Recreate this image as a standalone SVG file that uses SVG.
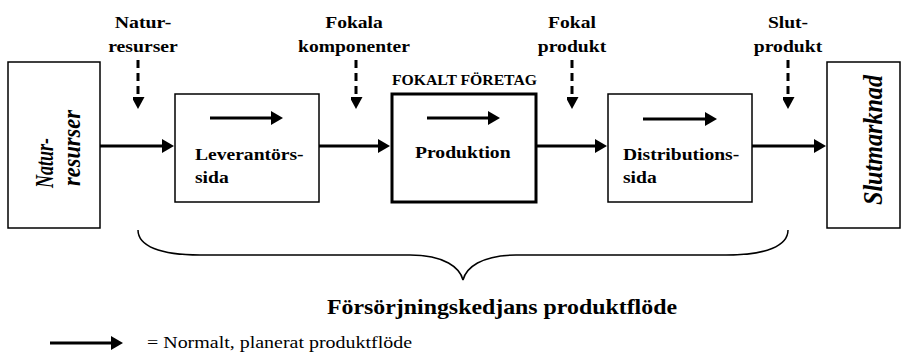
<svg xmlns="http://www.w3.org/2000/svg" width="908" height="359" viewBox="0 0 908 359">
  <style>
    .box { fill: #fff; stroke: #000; stroke-width: 1.5; }
    .thick { fill: #fff; stroke: #000; stroke-width: 3; }
    .flow { stroke: #000; stroke-width: 3; fill: none; marker-end: url(#head); }
    .dash { stroke: #000; stroke-width: 3; fill: none; stroke-dasharray: 8 5; marker-end: url(#dhead); }
    .lbl { font-family: "Liberation Serif", "Times New Roman", serif; font-weight: bold; font-size: 17px; fill: #000; }
    .rot { font-family: "Liberation Serif", "Times New Roman", serif; font-weight: bold; font-style: italic; fill: #000; }
    .brace { fill: none; stroke: #000; stroke-width: 1.5; }
  </style>
  <defs>
    <marker id="head" viewBox="0 0 12 14" refX="0" refY="7" markerWidth="12" markerHeight="14" markerUnits="userSpaceOnUse" orient="auto">
      <path d="M0,0 L12,7 L0,14 z" fill="#000"/>
    </marker>
    <marker id="dhead" viewBox="0 0 13 12" refX="0" refY="6.5" markerWidth="13" markerHeight="12" markerUnits="userSpaceOnUse" orient="auto">
      <path d="M0,0 L12,6.5 L0,13 z" fill="#000"/>
    </marker>
  </defs>
  <rect width="908" height="359" fill="#fff"/>

  <g id="connectors">
    <line class="flow" x1="100" y1="146" x2="162" y2="146"/>
    <line class="flow" x1="319" y1="146" x2="378" y2="146"/>
    <line class="flow" x1="536" y1="146" x2="595" y2="146"/>
    <line class="flow" x1="752" y1="146" x2="814" y2="146"/>
    <line class="dash" x1="138" y1="60" x2="138" y2="97"/>
    <line class="dash" x1="356" y1="60" x2="356" y2="97"/>
    <line class="dash" x1="572" y1="60" x2="572" y2="97"/>
    <line class="dash" x1="788" y1="60" x2="788" y2="97"/>
  </g>

  <g id="natur-resurser-box">
    <rect class="box" x="8" y="62" width="92" height="166"/>
    <g transform="translate(53,188) rotate(-90) scale(1,1.3)">
      <text class="rot" font-size="20" x="0" y="0" textLength="50" lengthAdjust="spacingAndGlyphs">Natur-</text>
      <text class="rot" font-size="20" x="2" y="20.8" textLength="76" lengthAdjust="spacingAndGlyphs">resurser</text>
    </g>
  </g>

  <g id="leverantorssida">
    <rect class="box" x="175" y="94" width="144" height="108"/>
    <line class="flow" x1="210" y1="118" x2="271" y2="118"/>
    <text class="lbl" x="195" y="160" textLength="108.6" lengthAdjust="spacingAndGlyphs">Leverantörs-</text>
    <text class="lbl" x="195" y="183" textLength="33.7" lengthAdjust="spacingAndGlyphs">sida</text>
  </g>

  <g id="produktion">
    <text class="lbl" x="392" y="85" style="font-size:14px" textLength="145" lengthAdjust="spacingAndGlyphs">FOKALT FÖRETAG</text>
    <rect class="thick" x="392" y="94" width="144" height="108"/>
    <line class="flow" x1="427" y1="118" x2="488" y2="118"/>
    <text class="lbl" x="415" y="158" textLength="95.6" lengthAdjust="spacingAndGlyphs">Produktion</text>
  </g>

  <g id="distributionssida">
    <rect class="box" x="608" y="94" width="144" height="108"/>
    <line class="flow" x1="643" y1="119" x2="705" y2="119"/>
    <text class="lbl" x="623" y="160" textLength="116.2" lengthAdjust="spacingAndGlyphs">Distributions-</text>
    <text class="lbl" x="623" y="183" textLength="33.7" lengthAdjust="spacingAndGlyphs">sida</text>
  </g>

  <g id="slutmarknad">
    <rect class="box" x="827" y="62" width="73" height="166"/>
    <g transform="translate(882,205) rotate(-90) scale(1,1.25)">
      <text class="rot" font-size="22" x="0" y="0" textLength="130" lengthAdjust="spacingAndGlyphs">Slutmarknad</text>
    </g>
  </g>

  <g id="label-naturresurser">
    <text class="lbl" x="143" y="28" text-anchor="middle" textLength="56.5" lengthAdjust="spacingAndGlyphs">Natur-</text>
    <text class="lbl" x="143" y="52" text-anchor="middle" textLength="69.5" lengthAdjust="spacingAndGlyphs">resurser</text>
  </g>
  <g id="label-fokala-komponenter">
    <text class="lbl" x="354" y="28" text-anchor="middle" textLength="57.6" lengthAdjust="spacingAndGlyphs">Fokala</text>
    <text class="lbl" x="354" y="52" text-anchor="middle" textLength="111.9" lengthAdjust="spacingAndGlyphs">komponenter</text>
  </g>
  <g id="label-fokal-produkt">
    <text class="lbl" x="572" y="28" text-anchor="middle" textLength="47.8" lengthAdjust="spacingAndGlyphs">Fokal</text>
    <text class="lbl" x="572" y="52" text-anchor="middle" textLength="68.4" lengthAdjust="spacingAndGlyphs">produkt</text>
  </g>
  <g id="label-slutprodukt">
    <text class="lbl" x="788" y="28" text-anchor="middle" textLength="40.2" lengthAdjust="spacingAndGlyphs">Slut-</text>
    <text class="lbl" x="788" y="52" text-anchor="middle" textLength="68.4" lengthAdjust="spacingAndGlyphs">produkt</text>
  </g>

  <g id="brace">
    <path class="brace" d="M138,230 C138,246 160,255 200,255 L410,255 C445,255 460,268 463,280 C466,268 481,255 516,255 L726,255 C766,255 788,246 788,230"/>
    <text class="lbl" x="502" y="314" text-anchor="middle" style="font-size:21px" textLength="350" lengthAdjust="spacingAndGlyphs">Försörjningskedjans produktflöde</text>
  </g>

  <g id="legend">
    <line class="flow" x1="50" y1="343" x2="111" y2="343"/>
    <text x="147" y="348" font-family="Liberation Serif, Times New Roman, serif" font-size="16" fill="#000" textLength="265" lengthAdjust="spacingAndGlyphs">= Normalt, planerat produktflöde</text>
  </g>
</svg>
